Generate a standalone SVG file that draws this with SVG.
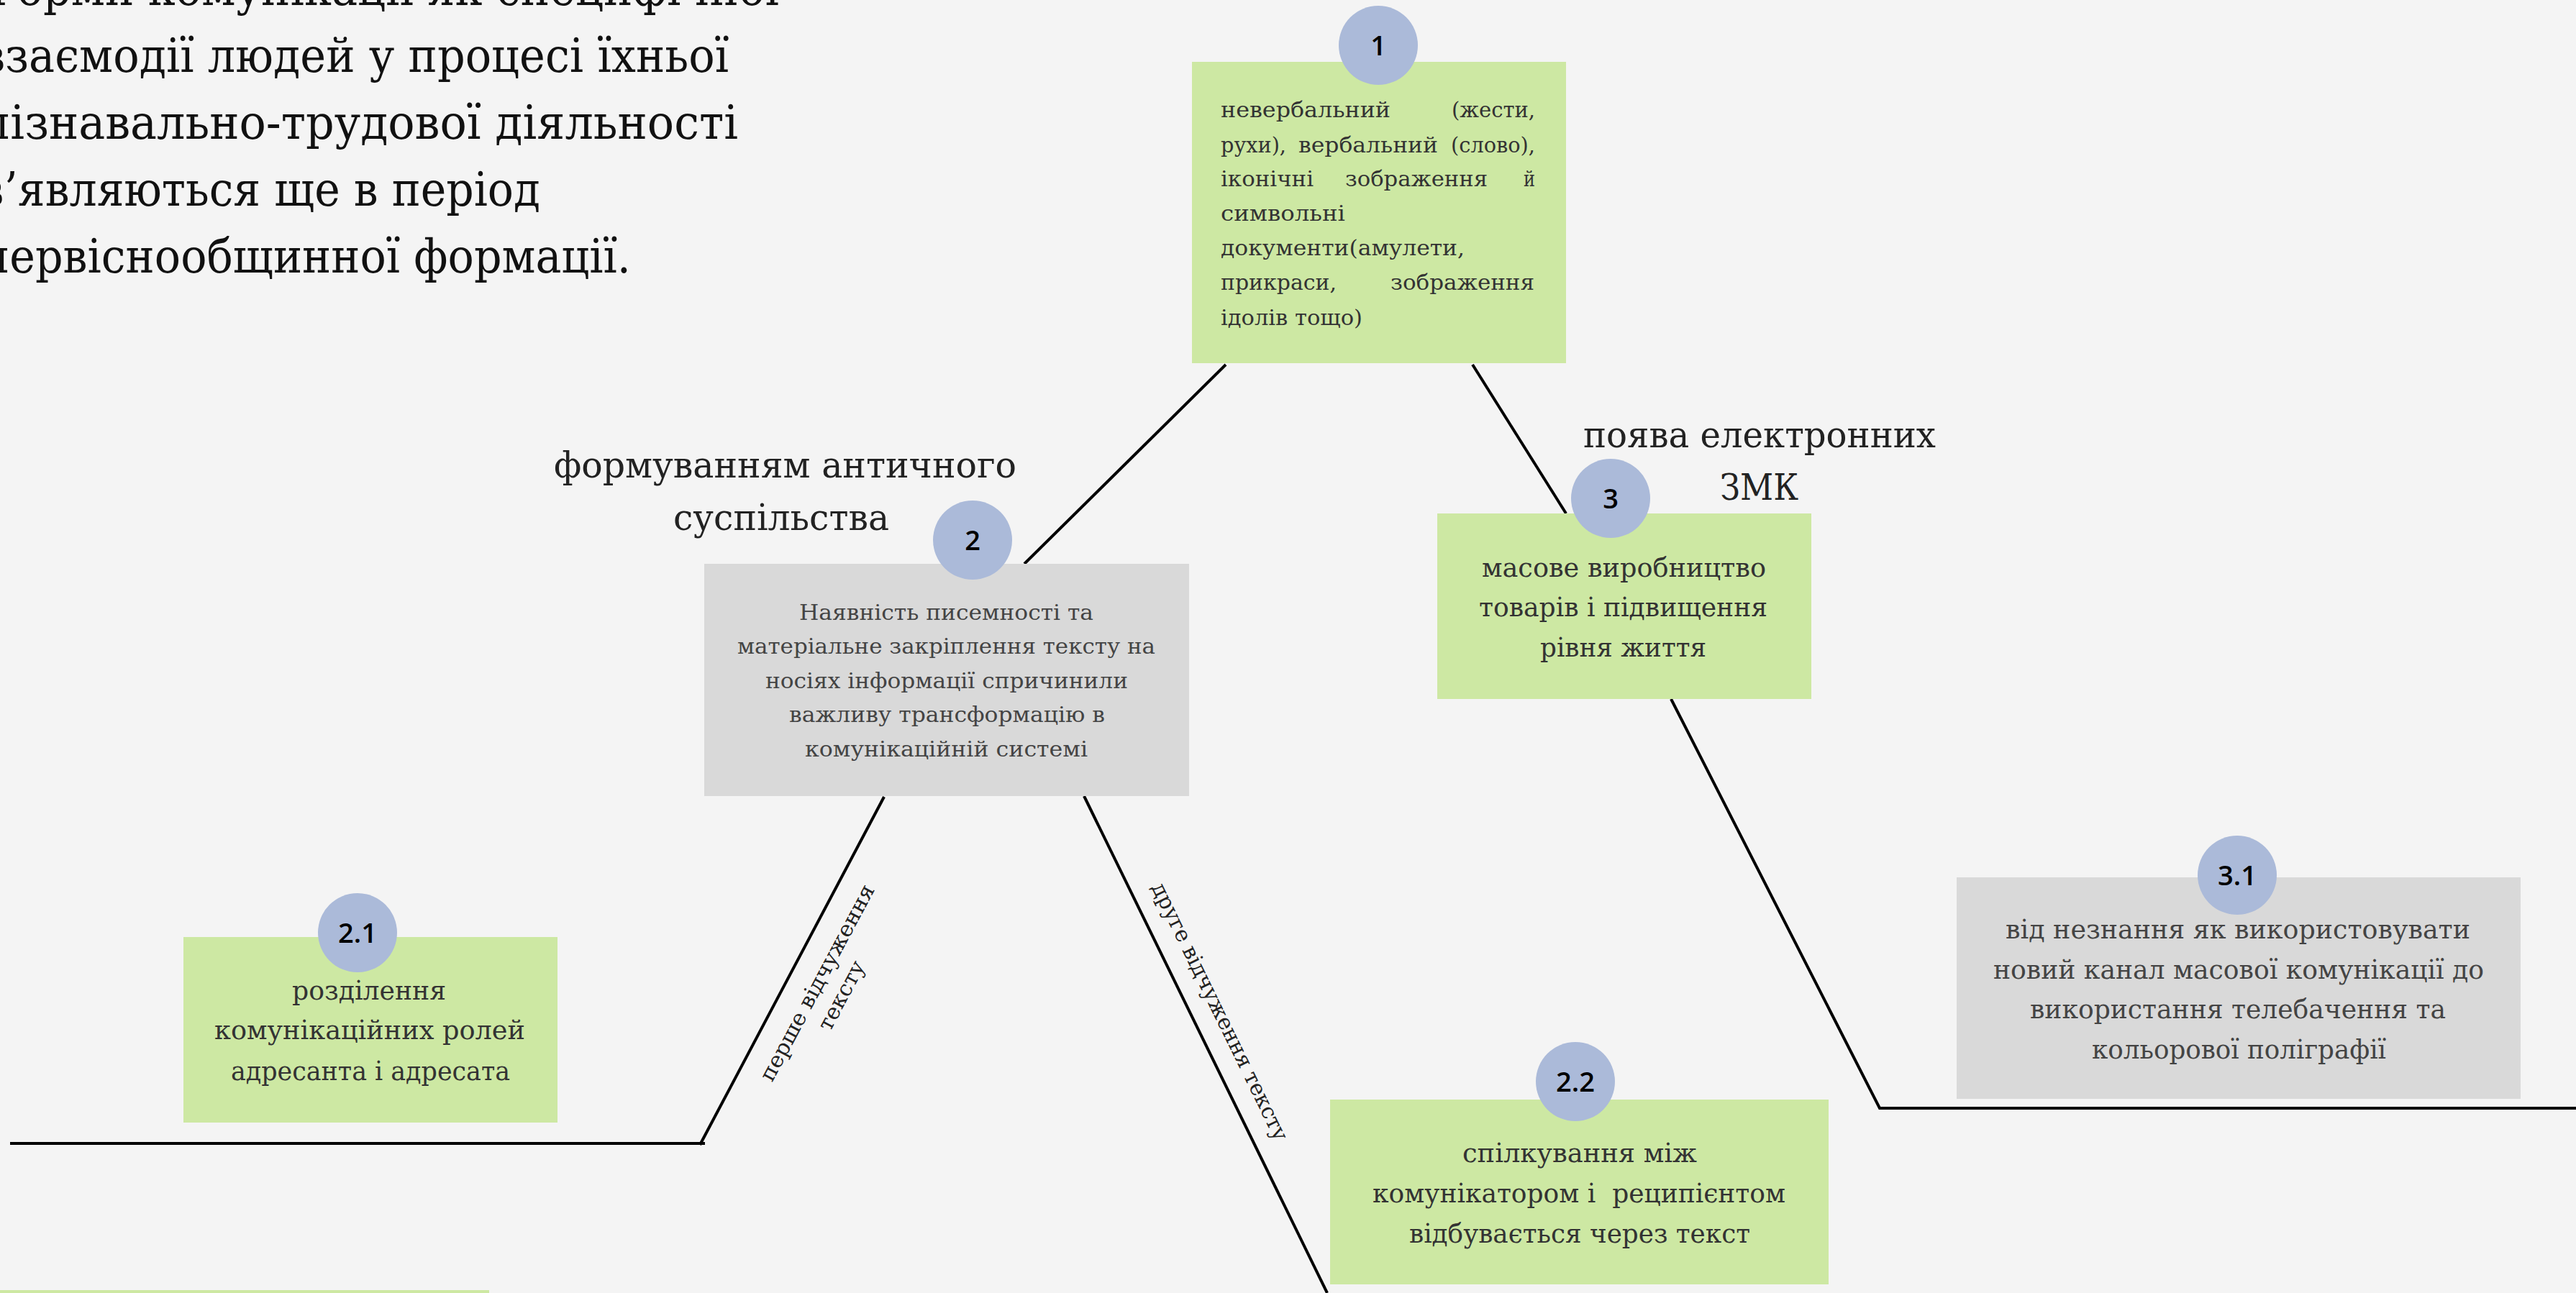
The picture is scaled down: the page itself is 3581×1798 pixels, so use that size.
<svg xmlns="http://www.w3.org/2000/svg" width="3581" height="1798" viewBox="0 0 3581 1798">
<style>
.bg{fill:#f4f4f4}
.green{fill:#cde8a3}
.gray{fill:#d9d9d9}
.badge{fill:#abbad9}
.num{font-family:"Open Sans","Noto Sans",sans-serif;font-size:38px;font-weight:600;fill:#000;text-anchor:middle}
.serif{font-family:"DejaVu Serif","Liberation Serif",serif}
.head{font-size:66px;fill:#111}
.ann{font-size:50px;fill:#222}
.b1{font-size:30px;fill:#333}
.b2{font-size:30px;fill:#444}
.bl{font-size:37px;fill:#333}
.bg2{font-size:37px;fill:#444}
.lab{font-size:30px;fill:#222;text-anchor:middle}
.conn{stroke:#000;stroke-width:4;fill:none}
</style>
<rect class="bg" x="0" y="0" width="3581" height="1798"/>

<g id="heading" class="serif head">
<text x="-27" y="7" textLength="1110" lengthAdjust="spacingAndGlyphs">Форми комунікації як специфічної</text>
<text x="-27" y="100" textLength="1040" lengthAdjust="spacingAndGlyphs">взаємодії людей у процесі їхньої</text>
<text x="-27" y="193" textLength="1053" lengthAdjust="spacingAndGlyphs">пізнавально-трудової діяльності</text>
<text x="-27" y="286" textLength="778" lengthAdjust="spacingAndGlyphs">з’являються ще в період</text>
<text x="-27" y="379" textLength="904" lengthAdjust="spacingAndGlyphs">первіснообщинної формації.</text>
</g>

<g id="connectors">
<path class="conn" d="M1704,507 L1424,784"/>
<path class="conn" d="M2047,507 L2177,714"/>
<path class="conn" d="M2323,972 L2613,1541 L3581,1541"/>
<path class="conn" d="M1229,1108 L973,1592"/>
<path class="conn" d="M14,1590 L980,1590"/>
<path class="conn" d="M1507,1107 L1845,1798"/>
</g>

<g id="edge-labels" class="serif">
<g transform="translate(1137,1367) rotate(-62)">
<text class="lab" x="0" y="9" textLength="305" lengthAdjust="spacingAndGlyphs">перше відчуження</text>
<text class="lab" x="0" y="47" textLength="105" lengthAdjust="spacingAndGlyphs">тексту</text>
</g>
<g transform="translate(1695,1407) rotate(64)">
<text class="lab" x="0" y="9" textLength="395" lengthAdjust="spacingAndGlyphs">друге відчуження тексту</text>
</g>
</g>

<g id="annotations" class="serif ann">
<text x="770" y="664" textLength="643" lengthAdjust="spacingAndGlyphs">формуванням античного</text>
<text x="936" y="737" textLength="300" lengthAdjust="spacingAndGlyphs">суспільства</text>
<text x="2201" y="622" textLength="490" lengthAdjust="spacingAndGlyphs">поява електронних</text>
<text x="2391" y="695" textLength="109" lengthAdjust="spacingAndGlyphs">ЗМК</text>
</g>

<g id="node-1">
<rect class="green" x="1657" y="86" width="520" height="419"/>
<circle class="badge" cx="1916" cy="63" r="55"/>
<text class="num" x="1916" y="77">1</text>
<g class="serif b1">
<text x="1697" y="163" textLength="236" lengthAdjust="spacingAndGlyphs">невербальний</text>
<text x="2018" y="163" textLength="116" lengthAdjust="spacingAndGlyphs">(жести,</text>
<text x="1697" y="212" textLength="91" lengthAdjust="spacingAndGlyphs">рухи),</text>
<text x="1805" y="212" textLength="194" lengthAdjust="spacingAndGlyphs">вербальний</text>
<text x="2017" y="212" textLength="117" lengthAdjust="spacingAndGlyphs">(слово),</text>
<text x="1697" y="259" textLength="129" lengthAdjust="spacingAndGlyphs">іконічні</text>
<text x="1870" y="259" textLength="198" lengthAdjust="spacingAndGlyphs">зображення</text>
<text x="2118" y="259" textLength="16" lengthAdjust="spacingAndGlyphs">й</text>
<text x="1697" y="307" textLength="173" lengthAdjust="spacingAndGlyphs">символьні</text>
<text x="1697" y="355" textLength="339" lengthAdjust="spacingAndGlyphs">документи(амулети,</text>
<text x="1697" y="403" textLength="161" lengthAdjust="spacingAndGlyphs">прикраси,</text>
<text x="1933" y="403" textLength="200" lengthAdjust="spacingAndGlyphs">зображення</text>
<text x="1697" y="452" textLength="197" lengthAdjust="spacingAndGlyphs">ідолів тощо)</text>
</g>
</g>

<g id="node-2">
<rect class="gray" x="979" y="784" width="674" height="323"/>
<circle class="badge" cx="1352" cy="751" r="55"/>
<text class="num" x="1352" y="765">2</text>
<g class="serif b2">
<text x="1111" y="862" textLength="409" lengthAdjust="spacingAndGlyphs">Наявність писемності та</text>
<text x="1025" y="909" textLength="581" lengthAdjust="spacingAndGlyphs">матеріальне закріплення тексту на</text>
<text x="1064" y="957" textLength="504" lengthAdjust="spacingAndGlyphs">носіях інформації спричинили</text>
<text x="1097" y="1004" textLength="439" lengthAdjust="spacingAndGlyphs">важливу трансформацію в</text>
<text x="1119" y="1052" textLength="393" lengthAdjust="spacingAndGlyphs">комунікаційній системі</text>
</g>
</g>

<g id="node-3">
<rect class="green" x="1998" y="714" width="520" height="258"/>
<circle class="badge" cx="2239" cy="693" r="55"/>
<text class="num" x="2239" y="707">3</text>
<g class="serif bl">
<text x="2060" y="802" textLength="395" lengthAdjust="spacingAndGlyphs">масове виробництво</text>
<text x="2056" y="857" textLength="401" lengthAdjust="spacingAndGlyphs">товарів і підвищення</text>
<text x="2141" y="913" textLength="231" lengthAdjust="spacingAndGlyphs">рівня життя</text>
</g>
</g>

<g id="node-2-1">
<rect class="green" x="255" y="1303" width="520" height="258"/>
<circle class="badge" cx="497" cy="1297" r="55"/>
<text class="num" x="497" y="1311">2.1</text>
<g class="serif bl">
<text x="406" y="1390" textLength="214" lengthAdjust="spacingAndGlyphs">розділення</text>
<text x="298" y="1445" textLength="432" lengthAdjust="spacingAndGlyphs">комунікаційних ролей</text>
<text x="321" y="1502" textLength="388" lengthAdjust="spacingAndGlyphs">адресанта і адресата</text>
</g>
</g>

<g id="node-2-2">
<rect class="green" x="1849" y="1529" width="693" height="257"/>
<circle class="badge" cx="2190" cy="1504" r="55"/>
<text class="num" x="2190" y="1518">2.2</text>
<g class="serif bl">
<text x="2033" y="1616" textLength="326" lengthAdjust="spacingAndGlyphs">спілкування між</text>
<text x="1908" y="1672" textLength="574" lengthAdjust="spacingAndGlyphs" style="white-space:pre">комунікатором і  реципієнтом</text>
<text x="1959" y="1728" textLength="474" lengthAdjust="spacingAndGlyphs">відбувається через текст</text>
</g>
</g>

<g id="node-3-1">
<rect class="gray" x="2720" y="1220" width="784" height="308"/>
<circle class="badge" cx="3110" cy="1217" r="55"/>
<text class="num" x="3110" y="1231">3.1</text>
<g class="serif bg2">
<text x="2788" y="1305" textLength="646" lengthAdjust="spacingAndGlyphs">від незнання як використовувати</text>
<text x="2771" y="1361" textLength="682" lengthAdjust="spacingAndGlyphs">новий канал масової комунікації до</text>
<text x="2822" y="1416" textLength="578" lengthAdjust="spacingAndGlyphs">використання телебачення та</text>
<text x="2908" y="1472" textLength="409" lengthAdjust="spacingAndGlyphs">кольорової поліграфії</text>
</g>
</g>

<g id="node-bottom">
<rect class="green" x="-10" y="1794" width="690" height="60"/>
</g>
</svg>
